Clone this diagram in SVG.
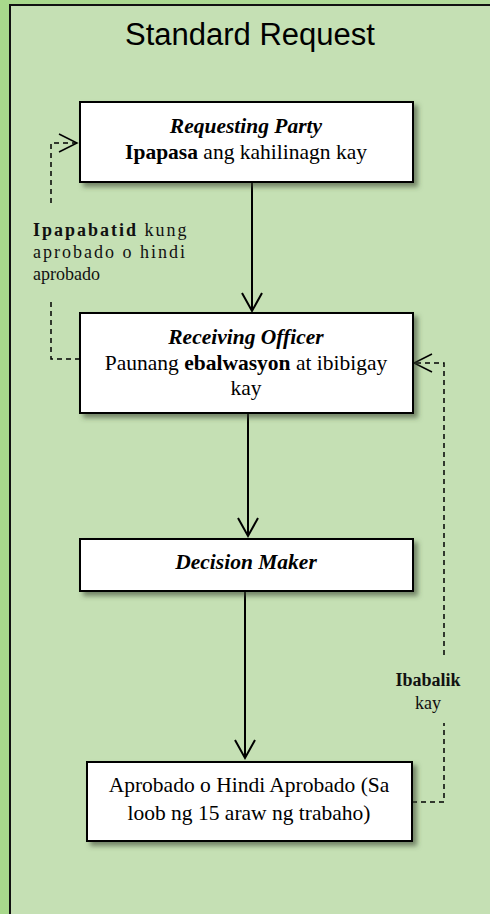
<svg xmlns="http://www.w3.org/2000/svg" width="490" height="914" viewBox="0 0 490 914">
<defs>
<style>
.box{fill:#ffffff;stroke:#000000;stroke-width:2;filter:url(#sh)}
.t{font-family:"Liberation Serif","Times New Roman",serif;font-size:21.5px;fill:#000;text-anchor:middle}
.lb{font-family:"Liberation Serif","Times New Roman",serif;font-size:18px;fill:#111}
.solid{fill:none;stroke:#000;stroke-width:2}
.dash{fill:none;stroke:#000;stroke-width:1.5;stroke-dasharray:5 4}
</style>
<linearGradient id="edge" x1="0" y1="0" x2="1" y2="0">
<stop offset="0" stop-color="#a8d88c"/>
<stop offset="1" stop-color="#b3dc9c"/>
</linearGradient>
<filter id="sh" x="-10%" y="-20%" width="130%" height="150%">
<feDropShadow dx="4" dy="4" stdDeviation="2.5" flood-color="#3a4a30" flood-opacity="0.6"/>
</filter>
<marker id="ah" markerUnits="userSpaceOnUse" markerWidth="24" markerHeight="24" viewBox="-20 -12 24 24" refX="0" refY="0" orient="auto">
<path d="M-18,-10 L0,0 L-18,10" fill="none" stroke="#000" stroke-width="2"/>
</marker>
<marker id="ahd" markerUnits="userSpaceOnUse" markerWidth="24" markerHeight="24" viewBox="-20 -12 24 24" refX="0" refY="0" orient="auto">
<path d="M-18,-9 L0,0 L-18,9" fill="none" stroke="#000" stroke-width="1.5"/>
</marker>
</defs>
<rect x="0" y="0" width="490" height="914" fill="url(#edge)"/>
<rect x="10" y="5" width="500" height="930" fill="#c5e0b4" stroke="#111" stroke-width="2"/>
<text x="250" y="45" font-family="Liberation Sans, Arial, sans-serif" font-size="31" text-anchor="middle" fill="#000">Standard Request</text>

<g id="connectors">
<path class="solid" d="M252,182 L252,311" marker-end="url(#ah)"/>
<path class="solid" d="M248,413 L248,536" marker-end="url(#ah)"/>
<path class="solid" d="M245,591 L245,758" marker-end="url(#ah)"/>
<path class="dash" d="M51,203 L51,143 L77,143" marker-end="url(#ahd)"/>
<path class="dash" d="M80,359 L51,359 L51,299"/>
<path class="dash" d="M444,655 L444,363 L414,363" marker-end="url(#ahd)"/>
<path class="dash" d="M412,802 L444,802 L444,723"/>
<g id="label-left">
<text class="lb" x="33" y="236" letter-spacing="2"><tspan font-weight="bold">Ipapabatid</tspan> kung</text>
<text class="lb" x="33" y="258" letter-spacing="2">aprobado o hindi</text>
<text class="lb" x="33" y="280">aprobado</text>
</g>
<g id="label-right">
<text class="lb" x="428" y="686" text-anchor="middle" font-weight="bold">Ibabalik</text>
<text class="lb" x="428" y="709" text-anchor="middle">kay</text>
</g>
</g>

<g id="node-requesting">
<rect class="box" x="80" y="102" width="333" height="80"/>
<text class="t" x="246" y="133" font-style="italic" font-weight="bold">Requesting Party</text>
<text class="t" x="246" y="159"><tspan font-weight="bold">Ipapasa</tspan> ang kahilinagn kay</text>
</g>
<g id="node-receiving">
<rect class="box" x="80" y="313" width="333" height="100"/>
<text class="t" x="246" y="344" font-style="italic" font-weight="bold">Receiving Officer</text>
<text class="t" x="246" y="370">Paunang <tspan font-weight="bold">ebalwasyon</tspan> at ibibigay</text>
<text class="t" x="246" y="395">kay</text>
</g>
<g id="node-decision">
<rect class="box" x="80" y="539" width="333" height="52"/>
<text class="t" x="246" y="569" font-style="italic" font-weight="bold">Decision Maker</text>
</g>
<g id="node-result">
<rect class="box" x="87" y="762" width="325" height="79"/>
<text class="t" x="249" y="792">Aprobado o Hindi Aprobado (Sa</text>
<text class="t" x="249" y="820">loob ng 15 araw ng trabaho)</text>
</g>
</svg>
